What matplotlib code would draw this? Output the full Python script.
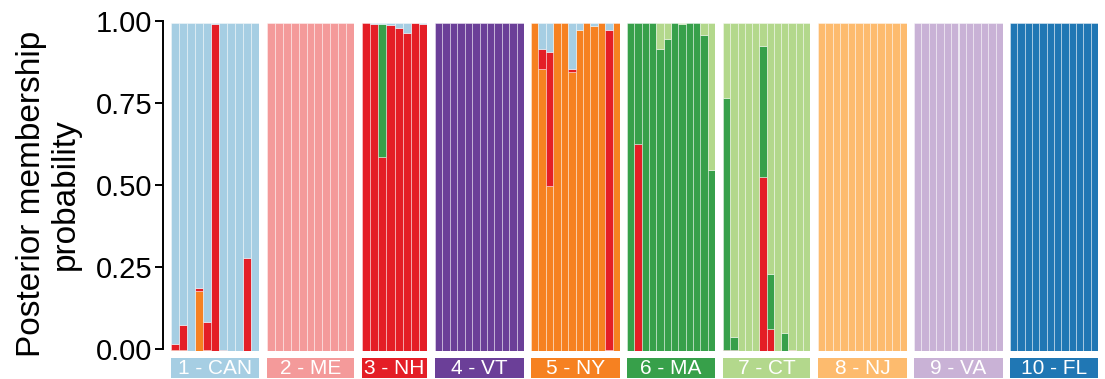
import matplotlib
matplotlib.use("Agg")
import matplotlib.pyplot as plt
import numpy as np

plt.rcParams['font.family'] = ['Liberation Sans', 'DejaVu Sans']

# Couleurs des clusters (palette "Paired", un peu adoucie)
col_can = '#a6cee3'
col_me = '#f49a9a'
col_nh = '#e41e26'
col_vt = '#6b3f98'
col_ny = '#f68121'
col_ma = '#37a04a'
col_ct = '#b3d88c'
col_nj = '#fdbb6e'
col_va = '#c9b2d6'
col_fl = '#2077b4'

pop_labels = ['1 - CAN', '2 - ME', '3 - NH', '4 - VT', '5 - NY',
              '6 - MA', '7 - CT', '8 - NJ', '9 - VA', '10 - FL']

# Probabilités d'appartenance, une liste par cluster et par population
can_ny = [0.004, 0.004, 0, 0.182, 0.004, 0, 0, 0, 0, 0, 0]
can_nh = [0.016, 0.075, 0, 0.010, 0.083, 0.997, 0.003, 0, 0, 0.283, 0]
can_can = [0.980, 0.921, 1.0, 0.808, 0.913, 0.003, 0.997, 1.0, 1.0, 0.717, 1.0]

me_me = [1.0, 1.0, 1.0, 1.0, 1.0, 1.0, 1.0, 1.0, 1.0, 1.0, 1.0]

nh_nh = [1.0, 0.996, 0.592, 0.994, 0.984, 0.970, 0.999, 0.997]
nh_ma = [0, 0, 0.406, 0, 0, 0, 0, 0]
nh_can = [0, 0.004, 0.002, 0.006, 0.016, 0.030, 0.001, 0.003]

vt_vt = [1.0, 1.0, 1.0, 1.0, 1.0, 1.0, 1.0, 1.0, 1.0, 1.0, 1.0, 1.0]

ny_ny = [1.0, 0.860, 0.503, 1.0, 1.0, 0.852, 0.978, 1.0, 0.992, 1.0, 0.003, 1.0]
ny_nh = [0, 0.062, 0.410, 0, 0, 0.008, 0, 0, 0, 0, 0.975, 0]
ny_can = [0, 0.078, 0.087, 0, 0, 0.140, 0.022, 0, 0.008, 0, 0.022, 0]

ma_nh = [0, 0.632, 0, 0, 0, 0, 0, 0, 0, 0, 0, 0]
ma_ma = [1.0, 0.368, 1.0, 1.0, 0.922, 0.950, 1.0, 0.996, 1.0, 1.0, 0.963, 0.552]
ma_ct = [0, 0, 0, 0, 0.078, 0.050, 0, 0.004, 0, 0, 0.037, 0.448]

ct_nh = [0.004, 0.004, 0, 0, 0, 0.530, 0.068, 0, 0, 0.003, 0, 0]
ct_ma = [0.768, 0.040, 0, 0, 0, 0.400, 0.166, 0, 0.055, 0, 0, 0]
ct_ct = [0.228, 0.956, 1.0, 1.0, 1.0, 0.070, 0.766, 1.0, 0.945, 0.997, 1.0, 1.0]

nj_nj = [1.0, 1.0, 1.0, 1.0, 1.0, 1.0, 1.0, 1.0, 1.0, 1.0, 1.0, 1.0]
va_va = [1.0, 1.0, 1.0, 1.0, 1.0, 1.0, 1.0, 1.0, 1.0, 1.0, 1.0, 1.0]
fl_fl = [1.0, 1.0, 1.0, 1.0, 1.0, 1.0, 1.0, 1.0, 1.0, 1.0, 1.0, 1.0]

# Empilement du bas vers le haut pour chaque population
panels = [
    ([can_ny, can_nh, can_can], [col_ny, col_nh, col_can], col_can),
    ([me_me], [col_me], col_me),
    ([nh_nh, nh_ma, nh_can], [col_nh, col_ma, col_can], col_nh),
    ([vt_vt], [col_vt], col_vt),
    ([ny_ny, ny_nh, ny_can], [col_ny, col_nh, col_can], col_ny),
    ([ma_nh, ma_ma, ma_ct], [col_nh, col_ma, col_ct], col_ma),
    ([ct_nh, ct_ma, ct_ct], [col_nh, col_ma, col_ct], col_ct),
    ([nj_nj], [col_nj], col_nj),
    ([va_va], [col_va], col_va),
    ([fl_fl], [col_fl], col_fl),
]

# Position des panneaux (pixels)
W, H = 1105, 379
lefts = [171, 267, 362, 435, 531, 627, 723, 818, 914, 1010]
rights = [259, 354, 427, 524, 620, 715, 810, 907, 1003, 1098]
top_px, bot_px = 23, 351
strip_top, strip_bot = 358, 378

fig = plt.figure(figsize=(W / 100, H / 100), dpi=100)

for i, (series, colors, pcol) in enumerate(panels):
    l, r = lefts[i], rights[i]
    ax = fig.add_axes([l / W, 1 - bot_px / H, (r - l) / W, (bot_px - top_px) / H])
    n = len(series[0])
    x = np.arange(n)
    bottom = np.zeros(n)
    for vals, c in zip(series, colors):
        v = np.array(vals, dtype=float)
        m = v > 0
        ax.bar(x[m], v[m], width=1.0, bottom=bottom[m], color=c,
               edgecolor=(1, 1, 1, 0.4), linewidth=0.7)
        bottom += v
    ax.set_xlim(-0.5, n - 0.5)
    ax.set_ylim(0, 1)
    ax.axis('off')

    # Bandeau du bas
    sax = fig.add_axes([l / W, 1 - strip_bot / H, (r - l) / W, (strip_bot - strip_top) / H])
    sax.set_facecolor(pcol)
    sax.set_xticks([])
    sax.set_yticks([])
    for s in sax.spines.values():
        s.set_visible(False)
    sax.text(0.5, 0.45, pop_labels[i], color='white', fontsize=15,
             ha='center', va='center', transform=sax.transAxes)

# Axe Y séparé
yax = fig.add_axes([163 / W, 1 - 348.5 / H, 0.001, 328 / H])
yax.set_facecolor('none')
for k in ['top', 'right', 'bottom']:
    yax.spines[k].set_visible(False)
yax.spines['left'].set_linewidth(1.4)
yax.set_ylim(0, 1)
yax.set_xticks([])
yax.set_yticks([0, 0.25, 0.5, 0.75, 1.0])
yax.set_yticklabels(['0.00', '0.25', '0.50', '0.75', '1.00'])
yax.tick_params(axis='y', length=5.5, width=1.4, labelsize=21, pad=2)

fig.text(48 / W, 1 - 194 / H, "Posterior membership\nprobability", rotation=90,
         ha='center', va='center', multialignment='center', fontsize=24,
         linespacing=1.12)

fig.savefig('out.png', dpi=100)
